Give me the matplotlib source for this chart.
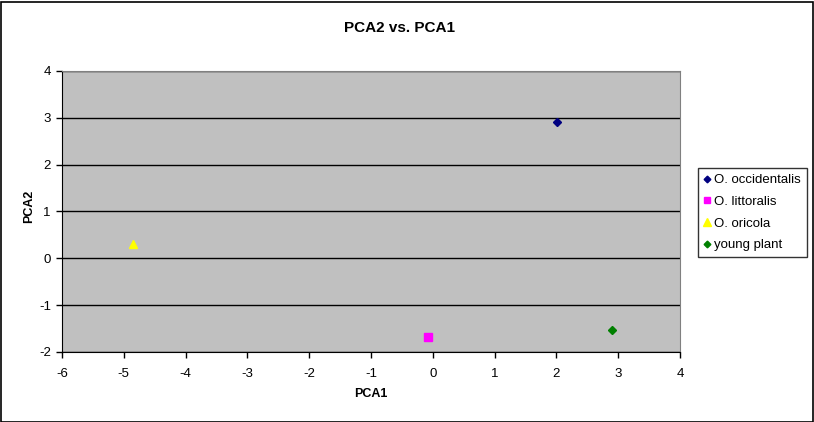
import matplotlib.pyplot as plt
from matplotlib.patches import Rectangle

plt.rcParams['font.family'] = ['Liberation Sans', 'DejaVu Sans']
plt.rcParams['axes.unicode_minus'] = False

names = ['O. occidentalis', 'O. littoralis', 'O. oricola', 'young plant']
pca1 = [2.01, -0.07, -4.85, 2.90]
pca2 = [2.91, -1.67, 0.31, -1.53]
colors = ['#000080', '#FF00FF', '#FFFF00', '#008000']
markers = ['D', 's', '^', 'D']
sizes = [4, 5.5, 6, 4]

fig = plt.figure(figsize=(8.14, 4.22), dpi=100)
W, H = 814, 422
ax = fig.add_axes([62 / W, 1 - 352 / H, (680 - 62) / W, (352 - 71) / H])
ax.set_facecolor('#C0C0C0')

for x, y, c, m, s, n in zip(pca1, pca2, colors, markers, sizes, names):
    ax.plot([x], [y], linestyle='none', marker=m, color=c, markersize=s,
            markeredgecolor=c, label=n, zorder=3)

ax.set_xlim(-6, 4)
ax.set_ylim(-2, 4)
ax.set_xticks(range(-6, 5))
ax.set_yticks(range(-2, 5))
ax.yaxis.grid(True, color='black', linewidth=1)
ax.set_axisbelow(True)
ax.tick_params(direction='out', length=4, width=1, labelsize=9.5, colors='black')
ax.tick_params(axis='x', pad=7.5)
ax.tick_params(axis='y', pad=4)
for side in ['top', 'right']:
    ax.spines[side].set_color('#808080')
for side in ['left', 'bottom']:
    ax.spines[side].set_color('black')

ax.set_xlabel('PCA1', fontsize=9, fontweight='bold', va='center')
ax.xaxis.set_label_coords(0.5, (352 - 394) / 281)
ax.set_ylabel('PCA2', fontsize=9, fontweight='bold', va='center',
              family=['Liberation Sans Narrow', 'Liberation Sans'])
ax.yaxis.set_label_coords((29 - 62) / 618, (352 - 206) / 281)
fig.text(400 / W, 1 - 28 / H, 'PCA2 vs. PCA1', ha='center', va='center',
         fontsize=11, fontweight='bold')

leg = fig.legend(loc='upper left', bbox_to_anchor=(698 / W, 1 - 168 / H),
                 fontsize=9.5, frameon=True, fancybox=False, handlelength=0.5,
                 handletextpad=0.3, borderpad=0.45, labelspacing=0.72,
                 borderaxespad=0, markerscale=0.85)
leg.get_frame().set_edgecolor('black')
leg.get_frame().set_linewidth(1)

fig.patches.append(Rectangle((0.5 / W, 0.5 / H), 1 - 2 / W, 1 - 2 / H,
                             transform=fig.transFigure, fill=False,
                             edgecolor='black', linewidth=1.2))

fig.savefig('out.png', dpi=100)
